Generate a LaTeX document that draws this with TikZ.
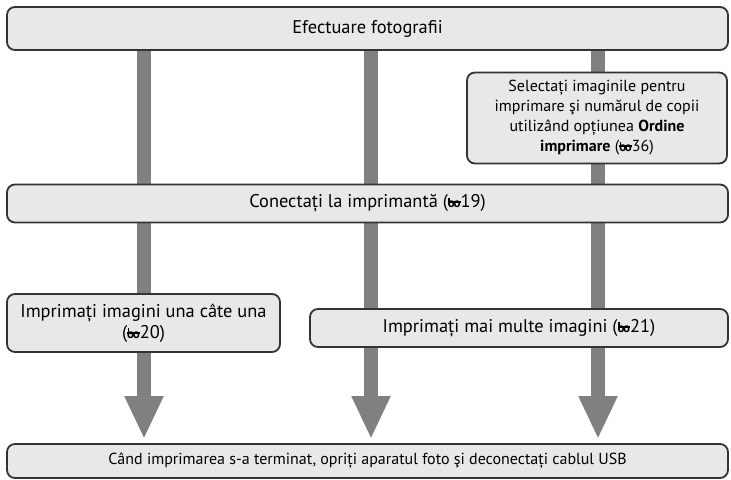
\documentclass[tikz,border=0pt]{standalone}
\usepackage{fontspec}
\setmainfont{PT Sans}
\usetikzlibrary{arrows.meta,backgrounds}
\definecolor{boxfill}{HTML}{E8E8E8}
\definecolor{boxline}{HTML}{333333}
\definecolor{flowgray}{HTML}{808080}
\newcommand{\refsym}{{\fontsize{6.5}{6.5}\selectfont\bfseries
  \rlap{\rule[2.3pt]{6.4pt}{1pt}}\rlap{\kern0.2pt\rule[1.5pt]{0.8pt}{3.4pt}}o\kern-0.7pt o}}
\tikzset{
  stepbox/.style={draw=boxline, line width=0.9pt, fill=boxfill, rounded corners=4pt,
    align=center, inner sep=0pt, font=\fontsize{8}{10}\selectfont},
  bigtext/.style={font=\fontsize{9.2}{10.5}\selectfont},
  flow/.style={draw=flowgray, line width=7pt, -{Triangle[length=21.5pt,width=18pt]}, shorten >=2pt}
}
\begin{document}
\begin{tikzpicture}[x=0.5pt,y=-0.5pt]
    \path (0,0) rectangle (731,480);
    \coordinate (c1) at (144,0);
    \coordinate (c2) at (371,0);
    \coordinate (c3) at (598,0);
    \node[stepbox, bigtext, minimum width=360.5pt, minimum height=21.5pt] (shoot) at (367.5,28.5) {Efectuare fotografii};
    \node[stepbox, minimum width=130pt, minimum height=45.5pt] (order) at (597,118)
        {Selectați imaginile pentru\\imprimare şi numărul de copii\\utilizând opțiunea \textbf{Ordine}\\\textbf{imprimare} (\refsym36)};
    \node[stepbox, bigtext, minimum width=360.5pt, minimum height=19pt] (conn) at (367.5,203.5) {Conectați la imprimantă (\refsym19)};
    \node[stepbox, bigtext, minimum width=136.5pt, minimum height=29pt] (single) at (143.5,323)
        {Imprimați imagini una câte una\\(\refsym20)};
    \node[stepbox, bigtext, minimum width=209pt, minimum height=19pt] (multi) at (519,328) {Imprimați mai multe imagini (\refsym21)};
    \node[stepbox, minimum width=360.5pt, minimum height=17pt] (done) at (367.5,461)
        {Când imprimarea s-a terminat, opriți aparatul foto şi deconectați cablul USB};
    \begin{scope}[on background layer]
        \draw[flow] (shoot.south -| c1) -- (done.north -| c1);
        \draw[flow] (shoot.south -| c2) -- (done.north -| c2);
        \draw[flow] (shoot.south -| c3) -- (done.north -| c3);
    \end{scope}
\end{tikzpicture}
\end{document}
